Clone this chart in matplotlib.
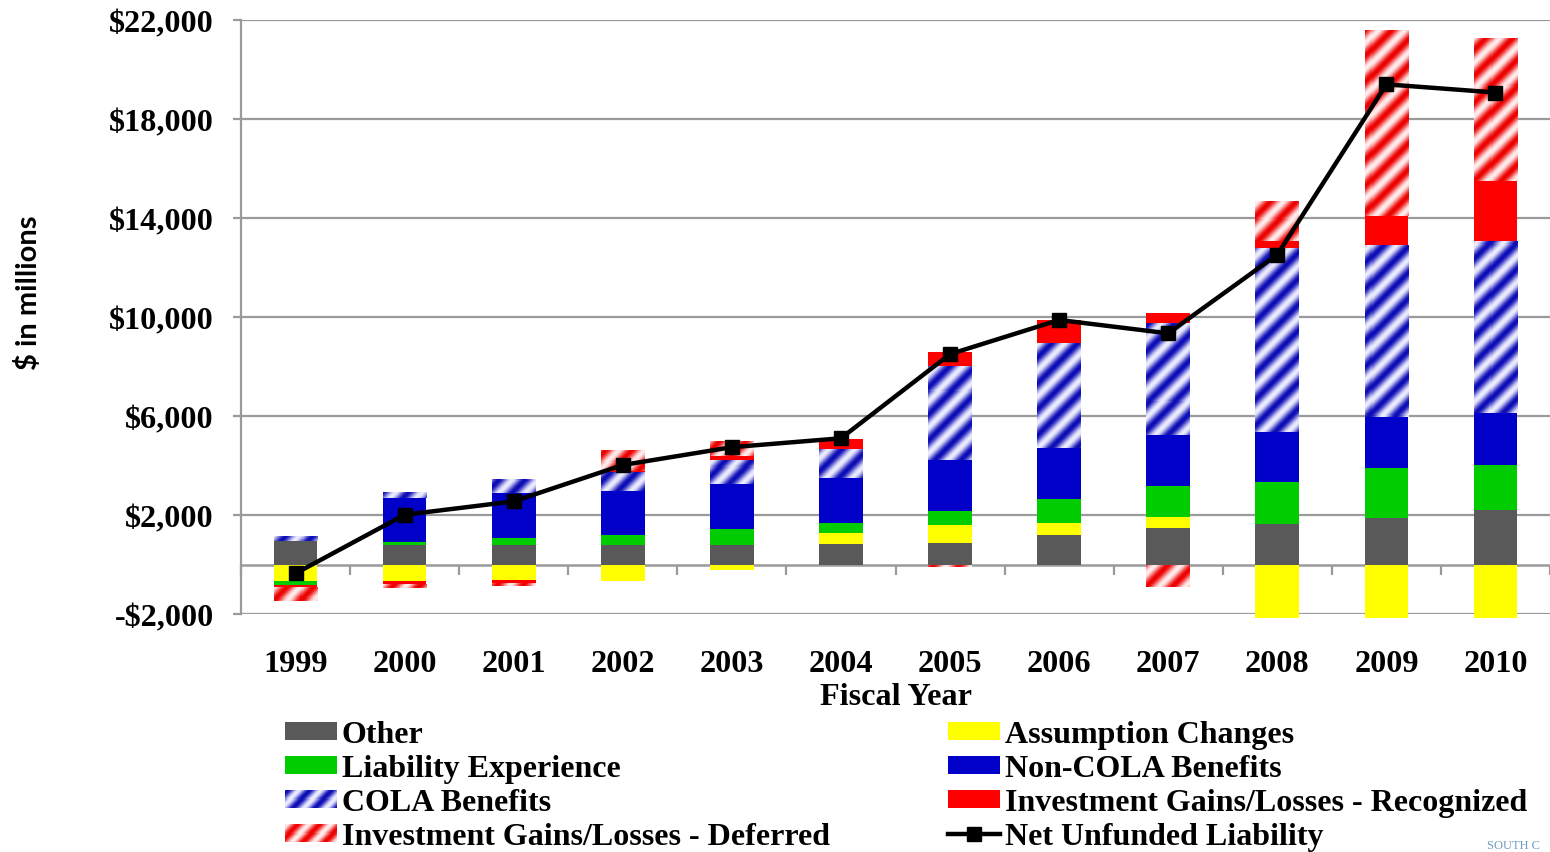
import numpy as np
import matplotlib
matplotlib.use("Agg")
import matplotlib.pyplot as plt
import matplotlib.patches as mpatches
from matplotlib.lines import Line2D
from matplotlib.ticker import FuncFormatter

# fiscal years and the components of the change in unfunded liability ($ millions)
years = ['1999', '2000', '2001', '2002', '2003', '2004',
         '2005', '2006', '2007', '2008', '2009', '2010']
other = [930, 800, 800, 800, 790, 830, 870, 1200, 1470, 1620, 1870, 2220]
assumption = [-660, -660, -620, -660, -240, 440, 730, 485, 450, -2160, -2160, -2160]
liability = [-150, 120, 280, 400, 650, 400, 570, 970, 1250, 1700, 2020, 1820]
non_cola = [0, 1780, 1820, 1780, 1820, 1820, 2060, 2060, 2050, 2050, 2050, 2100]
cola = [220, 240, 570, 750, 970, 1170, 3800, 4240, 4540, 7410, 6950, 6950]
inv_rec = [-100, -110, -130, 40, 160, 430, 570, 930, 420, 290, 1200, 2410]
inv_def = [-580, -170, -130, 860, 590, 0, -120, 0, -900, 1620, 7510, 5780]
net_unfunded = [-360, 2010, 2550, 4020, 4740, 5100, 8500, 9880, 9340, 12520, 19400, 19070]

yticks = [-2000, 2000, 6000, 10000, 14000, 18000, 22000]

serif = 'Liberation Serif'
fs = 23.2
grid_c = '#9a9a9a'
FW, FH = 1550, 853

fig = plt.figure(figsize=(FW / 100, FH / 100), dpi=100)
AX_L, AX_B, AX_W, AX_H = 241, 615, 1309, 594
ax = fig.add_axes([AX_L / FW, 1 - AX_B / FH, AX_W / FW, AX_H / FH])

BLUE_STRIPES = ((12, 12, 182), (236, 236, 255))
RED_STRIPES = ((238, 0, 0), (255, 236, 236))


def stripe_texture(w, h, colors, period=26.0, x0=0, y0=0):
    # soft diagonal "/" stripes, built in pixel space
    dark = np.array(colors[0]) / 255
    light = np.array(colors[1]) / 255
    cols, rows = np.meshgrid(np.arange(w) + x0, np.arange(h) + y0)
    t = 0.5 + 0.5 * np.cos(2 * np.pi * (cols + rows) / period)
    return t[..., None] * dark + (1 - t[..., None]) * light


x = np.arange(len(years))
w = 0.4
pos = np.zeros(len(years))
neg = np.zeros(len(years))


def stack(vals):
    global pos, neg
    v = np.array(vals, dtype=float)
    bottoms = np.where(v >= 0, pos, neg)
    pos = pos + np.clip(v, 0, None)
    neg = neg + np.clip(v, None, 0)
    return v, bottoms


def solid(vals, color):
    v, b = stack(vals)
    ax.bar(x, v, w, bottom=b, color=color, linewidth=0, zorder=2, clip_on=False)
    return mpatches.Patch(facecolor=color, linewidth=0)


axes_tex = {}


def striped(vals, colors):
    v, b = stack(vals)
    bars = ax.bar(x, v, w, bottom=b, color=np.array(colors[0]) / 255,
                  linewidth=0, zorder=2, clip_on=False)
    if colors not in axes_tex:
        axes_tex[colors] = stripe_texture(AX_W, AX_H, colors, x0=AX_L, y0=FH - AX_B)
    for p, val in zip(bars, v):
        if val == 0:
            continue
        im = ax.imshow(axes_tex[colors], extent=(-0.5, 11.5, -2000, 22000),
                       aspect='auto', origin='upper', zorder=2.1,
                       interpolation='nearest')
        im.set_clip_path(p)
    return mpatches.Patch(facecolor=np.array(colors[0]) / 255, linewidth=0)


h_other = solid(other, '#595959')
h_assump = solid(assumption, '#ffff00')
h_liab = solid(liability, '#00cc00')
h_noncola = solid(non_cola, '#0000c8')
h_cola = striped(cola, BLUE_STRIPES)
h_rec = solid(inv_rec, '#ff0000')
h_def = striped(inv_def, RED_STRIPES)

ax.plot(x, net_unfunded, color='black', linewidth=3.2, marker='s',
        markersize=10, zorder=5, clip_on=False)
h_net = Line2D([], [], color='black', linewidth=3.2, marker='s', markersize=10)

# axes, grid and ticks
ax.set_xlim(-0.5, 11.5)
ax.set_ylim(-2000, 22000)
ax.set_yticks(yticks)
ax.yaxis.set_major_formatter(FuncFormatter(
    lambda v, _: ('-$' if v < 0 else '$') + f'{abs(int(v)):,}'))
ax.grid(axis='y', color=grid_c, linewidth=1.6, zorder=0)
ax.set_axisbelow(True)
for s in ('top', 'right', 'bottom'):
    ax.spines[s].set_visible(False)
ax.spines['left'].set_color(grid_c)
ax.spines['left'].set_linewidth(1.6)
ax.tick_params(axis='y', direction='out', length=5.5, width=1.6, color=grid_c,
               pad=14, labelsize=fs)
ax.set_xticks(x)
ax.set_xticklabels(years)
ax.tick_params(axis='x', length=0, pad=25, labelsize=fs)
for lab in ax.get_xticklabels() + ax.get_yticklabels():
    lab.set_fontfamily(serif)
    lab.set_fontweight('bold')

# category axis crossing at zero
zax = ax.secondary_xaxis(0, transform=ax.transData)
zax.set_xticks(np.arange(-0.5, 12, 1.0))
zax.set_xticklabels([])
zax.tick_params(direction='out', length=7.5, width=1.6, color=grid_c)
zax.spines['bottom'].set_color(grid_c)
zax.spines['bottom'].set_linewidth(1.8)

ax.set_xlabel('Fiscal Year', fontfamily=serif, fontweight='bold', fontsize=fs)
ax.xaxis.set_label_coords(0.5, -0.115)
ax.xaxis.label.set_va('top')

fig.text(29 / FW, 1 - 293 / FH, '$ in millions', rotation=90, ha='center',
         va='center', fontfamily='Lato', fontweight='bold', fontsize=21)

# two-column legend, filled row by row
leg_fs = 23.0
leg_kw = dict(frameon=False, loc='upper left', handlelength=1.62, handleheight=0.5,
              handletextpad=0.15, labelspacing=0.16, borderaxespad=0, borderpad=0,
              prop={'family': serif, 'weight': 'bold', 'size': leg_fs})
leg1 = fig.legend([h_other, h_liab, h_cola, h_def],
                  ['Other', 'Liability Experience', 'COLA Benefits',
                   'Investment Gains/Losses - Deferred'],
                  bbox_to_anchor=(285 / FW, 1 - 721 / FH), **leg_kw)
leg2 = fig.legend([h_assump, h_noncola, h_rec, h_net],
                  ['Assumption Changes', 'Non-COLA Benefits',
                   'Investment Gains/Losses - Recognized', 'Net Unfunded Liability'],
                  bbox_to_anchor=(948 / FW, 1 - 721 / FH), **leg_kw)

fig.text(1487 / FW, 1 / FH, 'SOUTH C', color='#6f9cc4', fontfamily=serif,
         fontsize=9, va='bottom', ha='left')

# striped swatches for the legend entries of the striped series
fig.canvas.draw()
renderer = fig.canvas.get_renderer()
for handle, colors in ((leg1.legend_handles[2], BLUE_STRIPES),
                       (leg1.legend_handles[3], RED_STRIPES)):
    bb = handle.get_window_extent(renderer)
    sw = fig.add_axes([bb.x0 / FW, bb.y0 / FH, bb.width / FW, bb.height / FH])
    sw.imshow(stripe_texture(int(round(bb.width)), int(round(bb.height)), colors,
                             period=22.0, x0=int(bb.x0), y0=int(FH - bb.y1)),
              aspect='auto', interpolation='nearest')
    sw.set_axis_off()
    sw.set_zorder(10)

fig.savefig('out.png', dpi=100)
